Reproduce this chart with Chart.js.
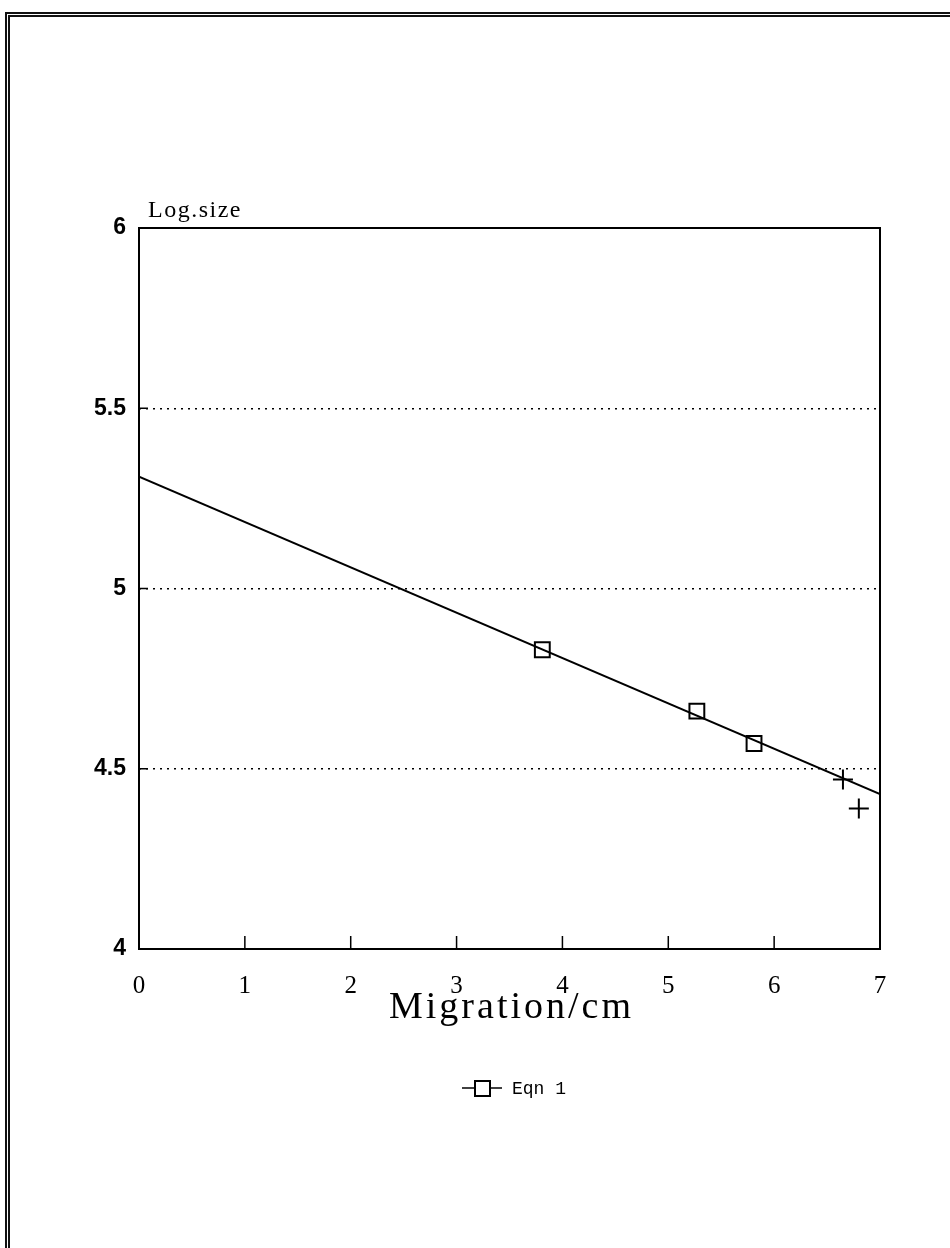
<!DOCTYPE html>
<html>
<head>
<meta charset="utf-8">
<script src="https://cdn.jsdelivr.net/npm/chart.js@4.4.1/dist/chart.umd.min.js"></script>
<style>
  html, body { margin: 0; padding: 0; background: #fff; }
  #wrap { position: relative; width: 950px; height: 1248px; overflow: hidden; }
  #frame { position: absolute; left: 5px; top: 12px; width: 2000px; height: 2000px;
           border-left: 5px double #111; border-top: 5px double #111; }
  canvas { position: absolute; left: 0; top: 0; }
</style>
</head>
<body>
<div id="wrap">
  <div id="frame"></div>
  <canvas id="gel" width="950" height="1248"></canvas>
</div>
<script>
// valeurs
const xTicks = [0, 1, 2, 3, 4, 5, 6, 7];
const yTicks = [4, 4.5, 5, 5.5, 6];
const fitLine = [{ x: 0, y: 5.31 }, { x: 7, y: 4.43 }];
const eqnPoints = [{ x: 3.81, y: 4.83 }, { x: 5.27, y: 4.66 }, { x: 5.81, y: 4.57 }];
const extraPoints = [{ x: 6.65, y: 4.47 }, { x: 6.80, y: 4.39 }];

const serif = '"Liberation Serif", "DejaVu Serif", serif';

// cadre, petites graduations, titres et légende
const decor = {
    id: 'decor',
    afterDraw(chart) {
        const c = chart.ctx;
        const a = chart.chartArea;
        const sx = chart.scales.x, sy = chart.scales.y;
        c.save();
        c.strokeStyle = '#000';
        c.lineWidth = 2;
        c.strokeRect(a.left, a.top, a.right - a.left, a.bottom - a.top);

        c.beginPath();
        xTicks.slice(1, -1).forEach(v => {
            const px = sx.getPixelForValue(v);
            c.moveTo(px, a.bottom);
            c.lineTo(px, a.bottom - 13);
        });
        yTicks.slice(1, -1).forEach(v => {
            const py = sy.getPixelForValue(v);
            c.moveTo(a.left, py);
            c.lineTo(a.left + 9, py);
        });
        c.lineWidth = 1.5;
        c.stroke();

        c.fillStyle = '#000';
        c.textBaseline = 'alphabetic';
        c.textAlign = 'left';
        c.font = '24px ' + serif;
        c.letterSpacing = '1.5px';
        c.fillText('Log.size', a.left + 9, a.top - 11);

        c.textAlign = 'center';
        c.font = '38px ' + serif;
        c.letterSpacing = '3px';
        c.fillText('Migration/cm', (a.left + a.right) / 2 + 2, 1018);

        // légende
        const ly = 1088, lx = 462;
        c.letterSpacing = '0px';
        c.beginPath();
        c.moveTo(lx, ly);
        c.lineTo(lx + 40, ly);
        c.lineWidth = 1.5;
        c.stroke();
        c.fillStyle = '#fff';
        c.fillRect(lx + 13, ly - 7, 15, 15);
        c.lineWidth = 2;
        c.strokeRect(lx + 13, ly - 7, 15, 15);
        c.fillStyle = '#000';
        c.textAlign = 'left';
        c.textBaseline = 'middle';
        c.font = '18px "Liberation Mono", monospace';
        c.fillText('Eqn 1', lx + 50, ly + 1);
        c.restore();
    }
};

const ctx = document.getElementById('gel').getContext('2d');
const gelChart = new Chart(ctx, {
    type: 'scatter',
    data: {
        datasets: [{
            type: 'line',
            label: 'fit',
            data: fitLine,
            borderColor: '#000',
            borderWidth: 2,
            pointRadius: 0,
            fill: false
        }, {
            label: 'Eqn 1',
            data: eqnPoints,
            pointStyle: 'rect',
            pointRadius: 10.5,
            pointBackgroundColor: 'rgba(255,255,255,0)',
            pointBorderColor: '#000',
            pointBorderWidth: 2,
            showLine: false
        }, {
            label: 'autres',
            data: extraPoints,
            pointStyle: 'cross',
            pointRadius: 10,
            pointBorderColor: '#000',
            pointBorderWidth: 2,
            showLine: false
        }]
    },
    options: {
        responsive: false,
        animation: false,
        layout: { padding: { left: 0, top: 228, right: 70, bottom: 199 } },
        plugins: {
            legend: { display: false },
            tooltip: { enabled: false }
        },
        scales: {
            x: {
                type: 'linear',
                min: 0,
                max: 7,
                afterFit: s => { s.height = 100; },
                afterBuildTicks: s => { s.ticks = xTicks.map(v => ({ value: v })); },
                ticks: {
                    color: '#000',
                    padding: 14,
                    font: { family: serif, size: 25 },
                    callback: v => String(v)
                },
                grid: { display: false },
                border: { display: false }
            },
            y: {
                min: 4,
                max: 6,
                afterFit: s => { s.width = 139; },
                afterBuildTicks: s => { s.ticks = yTicks.map(v => ({ value: v })); },
                ticks: {
                    color: '#000',
                    padding: 13,
                    font: { family: '"Liberation Sans", Arial, sans-serif', size: 23, weight: 'bold' },
                    callback: v => String(v)
                },
                grid: {
                    drawTicks: false,
                    lineWidth: 1.5,
                    color: c => (c.tick && (c.tick.value === 4 || c.tick.value === 6)) ? 'rgba(0,0,0,0)' : '#000'
                },
                border: { display: false, dash: [2, 5] }
            }
        }
    },
    plugins: [decor]
});
</script>
</body>
</html>
